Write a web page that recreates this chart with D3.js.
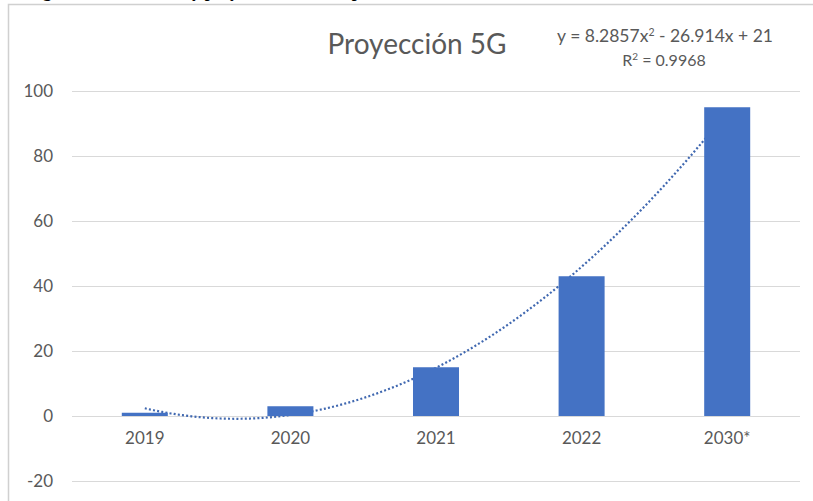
<!DOCTYPE html>
<html>
<head>
<meta charset="utf-8">
<script src="https://cdn.jsdelivr.net/npm/d3@7/dist/d3.min.js"></script>
<style>
  html, body { margin: 0; padding: 0; background: #ffffff; }
  svg { display: block; }
</style>
</head>
<body>
<div id="chart"></div>
<script>
// Categories and observed values (5G, by year)
const categories = ["2019", "2020", "2021", "2022", "2030*"];
const values = [1, 3, 15, 43, 95];
const yTicks = [-20, 0, 20, 40, 60, 80, 100];
// Polynomial trendline (order 2): a*x^2 + b*x + c, x = 1..n
const trendCoefficients = [8.2857, -26.914, 21];
const rSquared = 0.9968;
const chartTitle = "Proyección 5G";
const captionText = "Figura 4. Crecimiento y proyección de suscripciones 5G en el mundo";

const W = 813, H = 501;
const svg = d3.select("#chart").append("svg")
  .attr("width", W).attr("height", H);

const font = "Lato, 'Open Sans', sans-serif";
const textColor = "#595959";
const gridColor = "#d9d9d9";
const barColor = "#4472c4";

// Document caption running above the chart (only its lower edge falls on the page)
svg.append("text")
  .attr("x", 28).attr("y", -3)
  .attr("font-family", "'Liberation Serif', serif")
  .attr("font-weight", "bold")
  .attr("font-size", 17)
  .attr("fill", "#000")
  .text(captionText);

// Chart frame
svg.append("rect")
  .attr("x", 8.5).attr("y", 4.5)
  .attr("width", W + 10).attr("height", H + 10)
  .attr("fill", "#ffffff")
  .attr("stroke", "#d0d0d0").attr("stroke-width", 1.5);

const plot = { left: 72, right: 800, top: 91, bottom: 481 };

const x = d3.scaleBand()
  .domain(categories)
  .range([plot.left, plot.right])
  .paddingInner(0.684)
  .paddingOuter(0.342);

const y = d3.scaleLinear()
  .domain([d3.min(yTicks), d3.max(yTicks)])
  .range([plot.bottom, plot.top]);

// Horizontal gridlines + y labels
const yAxis = d3.axisLeft(y)
  .tickValues(yTicks)
  .tickSize(-(plot.right - plot.left))
  .tickPadding(19)
  .tickFormat(d => String(d));

const gy = svg.append("g")
  .attr("transform", `translate(${plot.left},0)`)
  .call(yAxis);
gy.select(".domain").remove();
gy.selectAll(".tick line").attr("stroke", gridColor).attr("stroke-width", 1);
gy.selectAll(".tick text")
  .attr("fill", textColor)
  .attr("font-family", font)
  .attr("font-size", 17);

// Trendline sits behind the bars
const xTrend = d3.scaleLinear()
  .domain([1, categories.length])
  .range([x(categories[0]) + x.bandwidth() / 2,
          x(categories[categories.length - 1]) + x.bandwidth() / 2]);
const [ta, tb, tc] = trendCoefficients;
const trendPts = d3.range(1, categories.length + 0.001, 0.02)
  .map(t => [xTrend(t), y(ta * t * t + tb * t + tc)]);

svg.append("path")
  .datum(trendPts)
  .attr("d", d3.line())
  .attr("fill", "none")
  .attr("stroke", "#4068b0")
  .attr("stroke-width", 2.2)
  .attr("stroke-dasharray", "2 2.2");

// Bars
svg.append("g").selectAll("rect")
  .data(values)
  .join("rect")
  .attr("x", (d, i) => x(categories[i]))
  .attr("y", d => y(Math.max(0, d)))
  .attr("width", x.bandwidth())
  .attr("height", d => Math.abs(y(d) - y(0)))
  .attr("fill", barColor);

// Category labels
const xAxis = d3.axisBottom(x).tickSize(0).tickPadding(16);
const gx = svg.append("g")
  .attr("transform", `translate(0,${y(0)})`)
  .call(xAxis);
gx.select(".domain").remove();
gx.selectAll(".tick text")
  .attr("fill", textColor)
  .attr("font-family", font)
  .attr("font-size", 17);

// Title
svg.append("text")
  .attr("x", 417).attr("y", 54)
  .attr("text-anchor", "middle")
  .attr("font-family", font)
  .attr("font-size", 28)
  .attr("fill", textColor)
  .text(chartTitle);

// Trendline equation and R²
const fmt = v => String(Math.abs(v));
const eq = svg.append("text")
  .attr("x", 665).attr("y", 42)
  .attr("text-anchor", "middle")
  .attr("font-family", font)
  .attr("font-size", 17.5)
  .attr("fill", textColor);
eq.append("tspan").text(`y = ${fmt(ta)}x`);
eq.append("tspan").attr("font-size", 10.5).attr("dy", -6).text("2");
eq.append("tspan").attr("dy", 6)
  .text(` ${tb < 0 ? "-" : "+"} ${fmt(tb)}x ${tc < 0 ? "-" : "+"} ${fmt(tc)}`);

const r2 = svg.append("text")
  .attr("x", 664).attr("y", 66)
  .attr("text-anchor", "middle")
  .attr("font-family", font)
  .attr("font-size", 16)
  .attr("fill", textColor);
r2.append("tspan").text("R");
r2.append("tspan").attr("font-size", 10).attr("dy", -6).text("2");
r2.append("tspan").attr("dy", 6).text(` = ${rSquared}`);
</script>
</body>
</html>
